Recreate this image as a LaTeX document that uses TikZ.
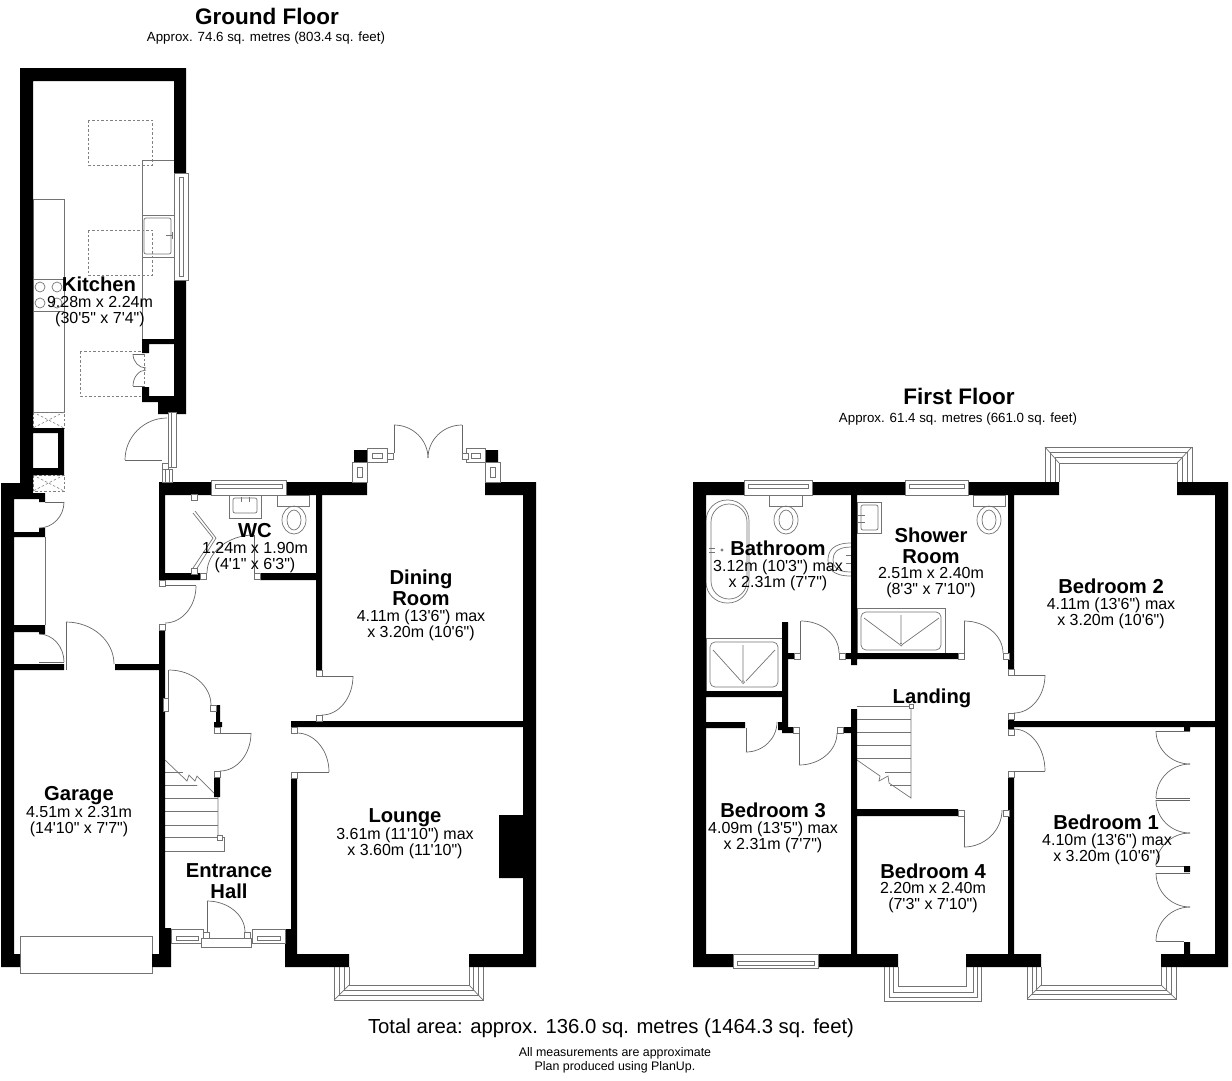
\documentclass[tikz,border=0pt]{standalone}
\usepackage{fontspec}
\newfontfamily\planfont{Liberation Sans}
\usetikzlibrary{calc}
\tikzstyle{wall}=[fill=black]
\tikzstyle{fixture}=[draw=black!55, line width=0.7pt]
\tikzstyle{window}=[draw=black!55, fill=white, line width=0.7pt]
\tikzstyle{hinge}=[draw=black!55, fill=white, line width=0.7pt]
\tikzstyle{doorline}=[draw=black!60, line width=0.7pt]
\tikzstyle{ghost}=[draw=black!50, line width=0.6pt, dash pattern=on 2.5pt off 2pt]
\tikzstyle{floortitle}=[font=\planfont\fontsize{22.5}{24}\selectfont\bfseries]
\tikzstyle{floorarea}=[font=\planfont\fontsize{13.3}{16}\selectfont]
\tikzstyle{roomname}=[font=\planfont\fontsize{20.2}{21}\selectfont\bfseries, align=center, inner sep=0pt]
\tikzstyle{roomsize}=[font=\planfont\fontsize{16}{16}\selectfont, align=center, inner sep=0pt]
\newcommand{\swing}[4]{\draw[doorline] (#1,#2) .. controls ($(#1,#2)!.55!(#1,#4)$) and ($(#3,#4)!.55!(#1,#4)$) .. (#3,#4);}
\begin{document}
\begin{tikzpicture}[x=1pt,y=-1pt]
\useasboundingbox (0,0) rectangle (1232,1080);

% ground floor fittings
\draw[fixture] (33,199) rectangle (64,412);
\draw[fixture] (33,279) rectangle (64,311);
\foreach \cx/\cy in {40/287,57/287,40/303,57/303} \draw[fixture] (\cx,\cy) circle (5);
\draw[fixture] (142,160) rectangle (174,339);
\draw[fixture] (142,215) rectangle (174,257);
\draw[fixture, rounded corners=2pt] (144,218) rectangle (171,254);
\draw[fixture] (172,232) -- (172,239) (166,235) -- (172,235);
\foreach \gx/\gy in {88/120,88/230,80/351} \draw[ghost] (\gx,\gy) rectangle ++(64,45);
\foreach \ty in {412,475} {
\draw[ghost] (33,\ty) rectangle ++(31,16);
\draw[ghost] (33,\ty) -- ++(31,16) (64,\ty) -- ++(-31,16);
}
\draw[fixture] (20,936) rectangle (152,973);
\draw[fixture] (45,537) -- (45,625);
\draw[fixture] (229,495) rectangle (261,518);
\draw[fixture, rounded corners=2pt] (233,498) rectangle (257,513);
\draw[fixture] (241,497) -- (241,502) (249,497) -- (249,502);
\draw[fixture] (277,495) rectangle (309,506);
\draw[fixture] (294,520) ellipse (12 and 14);
\draw[fixture] (294,520) ellipse (7 and 10);
\draw[fixture] (193,513) -- (213,538) -- (193,568) (195,511) -- (216,538) -- (196,570);

% hall stairs
\foreach \sy in {785,798,811,825,837,851} \draw[fixture] (165,\sy) -- (218,\sy);
\draw[fill=white, draw=white] (165,761) -- (187,781) -- (197,785) -- (218,797) -- (218,778) -- (165,750) -- cycle;
\draw[fixture] (165,772) -- (183,772) (165,785) -- (197,785);
\draw[fixture] (165,760) -- (187,781) -- (189,775) -- (195,781) -- (197,776) -- (218,797) -- (218,837);
\draw[fixture] (165,837) -- (224,837) -- (224,851) -- (165,851);
\draw[hinge] (217,835) rectangle ++(5,5);

% ground floor walls
\fill[wall] (20,68) rectangle (186,81) (20,68) rectangle (33,493) (174,68) rectangle (186,173)
(174,280) rectangle (186,414) (142,339) rectangle (174,344) (142,339) rectangle (149,353)
(142,387) rectangle (149,402) (142,396) rectangle (174,402) (158,402) rectangle (186,414)
(33,428) rectangle (64,433) (58,428) rectangle (64,475) (33,468) rectangle (64,475)
(1,483) rectangle (14,967) (1,954) rectangle (20,967) (14,483) rectangle (33,499)
(33,493) rectangle (45,499) (39,493) rectangle (45,502) (14,532) rectangle (45,537)
(39,528) rectangle (45,537) (14,625) rectangle (45,632) (39,625) rectangle (45,634)
(14,664) rectangle (64,670) (115,664) rectangle (159,670)
(159,482) rectangle (165,573) (159,573) rectangle (200,580) (159,482) rectangle (211,495)
(286,482) rectangle (367,495) (316,495) rectangle (322,670) (260,573) rectangle (316,580)
(159,630) rectangle (165,928) (152,954) rectangle (171,967) (159,928) rectangle (171,967)
(216,705) rectangle (220,727) (214,722) rectangle (222,727) (214,777) rectangle (220,797)
(291,779) rectangle (297,929) (285,929) rectangle (297,967) (285,954) rectangle (349,967)
(469,954) rectangle (536,967) (523,482) rectangle (536,967) (485,482) rectangle (536,495)
(291,721) rectangle (523,727) (499,815) rectangle (523,878)
(354,450) rectangle (367,462) (485,450) rectangle (498,462);

% ground floor windows
\draw[window] (174,173) rectangle (188,280);
\draw[fixture] (179,177) rectangle (183,276);
\draw[window] (211,480) rectangle (286,495);
\draw[fixture] (215,484) rectangle (282,488);
\draw[window] (162,469) rectangle (172,482);
\draw[fixture] (165,469) rectangle (169,482);
\draw[window] (168,412) rectangle (176,467);
\draw[fixture] (171,412) -- (171,467);
\draw[window] (171,929) rectangle (203,943);
\draw[fixture] (176,936) rectangle (198,940);
\draw[window] (252,929) rectangle (285,943);
\draw[fixture] (257,936) rectangle (280,940);
\draw[window] (201,938) rectangle (251,947);
\draw[window] (367,448) rectangle (387,462);
\draw[fixture] (372,453) rectangle (382,458);
\draw[window] (466,448) rectangle (485,462);
\draw[fixture] (471,453) rectangle (480,458);
\draw[window] (352,462) rectangle (367,482);
\draw[fixture] (357,467) rectangle (362,477);
\draw[window] (485,462) rectangle (500,482);
\draw[fixture] (490,467) rectangle (495,477);
\draw[fixture] (334,967) -- (334,1000) -- (483,1000) -- (483,967);
\draw[fixture] (339,967) -- (339,995) -- (478,995) -- (478,967);
\draw[fixture] (344,967) -- (344,990) -- (473,990) -- (473,967);
\draw[fixture] (349,967) -- (349,985) -- (469,985) -- (469,967);
\draw[fixture] (334,1000) -- (349,985) (483,1000) -- (469,985);

% ground floor doors
\foreach \hx/\hy in {159/580,159/624,200/573,254/573,191/494,191/568,210/705,214/727,214/771,203/932,244/932,291/727,291/772,316/670,316/715,387/453,462/453,162/463}
\draw[hinge] (\hx,\hy) rectangle ++(6,6);
\draw[hinge] (163,698) rectangle (168,711);
\draw[doorline] (125,460) -- (162,460) (165,585) -- (196,585) (45,502) -- (64,502) (39,662) -- (64,662)
(66,670) -- (66,622) (168,698) -- (168,670) (220,733) -- (251,733) (207,932) -- (207,901)
(322,676) -- (353,676) (297,772) -- (329,772) (394,453) -- (394,425) (462,453) -- (462,425)
(254,573) -- (254,535) (133,354) -- (144,354) (133,386) -- (144,386);
\swing{125}{460}{167}{418}
\swing{196}{586}{165}{623}
\swing{64}{502}{39}{528}
\swing{64}{662}{39}{634}
\swing{114}{664}{66}{622}
\swing{211}{705}{169}{670}
\swing{251}{733}{220}{771}
\swing{245}{932}{207}{901}
\swing{353}{676}{322}{715}
\swing{329}{772}{297}{733}
\swing{428}{458}{394}{425}
\swing{428}{458}{462}{425}
\swing{133}{354}{146}{368}
\swing{133}{386}{146}{370}
\swing{207}{573}{254}{535}

% first floor fittings
\draw[fixture, rounded corners=21pt] (706,500) rectangle (749,603);
\draw[fixture, rounded corners=18pt] (711,504) rectangle (747,599);
\draw[fixture] (709,548) -- (715,548) (709,552) -- (715,552);
\draw[fixture] (722,550) circle (1.2);
\draw[fixture] (769,495) rectangle (802,506);
\draw[fixture] (786,520) ellipse (12 and 14);
\draw[fixture] (786,520) ellipse (7 and 10);
\draw[fixture] (851,543) .. controls (832,543) and (828,552) .. (828,560) .. controls (828,568) and (832,576) .. (851,576);
\draw[fixture] (851,547) .. controls (837,547) and (833,553) .. (833,560) .. controls (833,567) and (837,572) .. (851,572);
\draw[fixture] (846,555) -- (851,555) (846,563) -- (851,563);
\draw[fixture] (857,502) rectangle (881,533);
\draw[fixture, rounded corners=2pt] (861,505) rectangle (878,530);
\draw[fixture] (858,515) -- (865,515) (858,522) -- (865,522);
\draw[fixture] (973,495) rectangle (1005,506);
\draw[fixture] (989,520) ellipse (12 and 14);
\draw[fixture] (989,520) ellipse (7 and 10);
\draw[fixture] (857,608) rectangle (945,653);
\draw[fixture, rounded corners=5pt] (861,612) rectangle (941,650);
\draw[fixture] (901,615) -- (901,643) (864,618) -- (899,644) (939,618) -- (903,644);
\draw[fixture] (901,644.5) circle (1.5);
\draw[fixture] (706,638) rectangle (782,691);
\draw[fixture, rounded corners=5pt] (710,642) rectangle (778,687);
\draw[fixture] (743,645) -- (743,680) (713,650) -- (741,681) (775,650) -- (746,681);
\draw[fixture] (743,682) circle (1.5);

% landing stairs
\foreach \sy in {706,719,732,745,758} \draw[fixture] (857,\sy) -- (911,\sy);
\draw[fixture] (885,772) -- (911,772) (890,785) -- (911,785);
\draw[fixture] (857,760) -- (880,776) -- (879,781) -- (888,776) -- (889,783) -- (911,798) -- (911,706);
\draw[hinge] (909,704) rectangle ++(4,4);

% first floor walls
\fill[wall] (693,482) rectangle (744,495) (812,482) rectangle (905,495) (968,482) rectangle (1059,495)
(1177,482) rectangle (1228,495) (693,482) rectangle (706,967) (1215,482) rectangle (1228,967)
(851,495) rectangle (857,665) (1008,495) rectangle (1014,669) (845,653) rectangle (958,659)
(785,653) rectangle (794,659) (782,622) rectangle (788,733) (706,691) rectangle (782,697)
(706,722) rectangle (745,728) (778,722) rectangle (788,730) (788,727) rectangle (793,733)
(843,727) rectangle (851,733) (851,709) rectangle (857,967) (857,809) rectangle (958,816)
(1008,778) rectangle (1014,954) (1008,721) rectangle (1215,727) (1008,719) rectangle (1014,729)
(693,954) rectangle (733,967) (818,954) rectangle (898,967) (966,954) rectangle (1041,967)
(1161,954) rectangle (1228,967) (1184,726) rectangle (1190,731) (1184,866) rectangle (1190,872)
(1184,942) rectangle (1190,954);

% first floor windows
\draw[window] (744,480) rectangle (812,495);
\draw[fixture] (748,484) rectangle (808,488);
\draw[window] (905,480) rectangle (968,495);
\draw[fixture] (909,484) rectangle (964,488);
\draw[window] (733,954) rectangle (818,968);
\draw[fixture] (737,961) rectangle (814,965);
\draw[fixture] (1045,482) -- (1045,447) -- (1192,447) -- (1192,482);
\draw[fixture] (1050,482) -- (1050,452) -- (1187,452) -- (1187,482);
\draw[fixture] (1055,482) -- (1055,457) -- (1182,457) -- (1182,482);
\draw[fixture] (1059,482) -- (1059,463) -- (1177,463) -- (1177,482);
\draw[fixture] (1045,447) -- (1059,463) (1192,447) -- (1177,463);
\draw[fixture] (884,967) -- (884,1001) -- (981,1001) -- (981,967);
\draw[fixture] (889,967) -- (889,997) -- (977,997) -- (977,967);
\draw[fixture] (893,967) -- (893,992) -- (973,992) -- (973,967);
\draw[fixture] (898,967) -- (898,986) -- (966,986) -- (966,967);
\draw[fixture] (1027,967) -- (1027,999) -- (1176,999) -- (1176,967);
\draw[fixture] (1032,967) -- (1032,994) -- (1171,994) -- (1171,967);
\draw[fixture] (1036,967) -- (1036,990) -- (1166,990) -- (1166,967);
\draw[fixture] (1041,967) -- (1041,985) -- (1161,985) -- (1161,967);
\draw[fixture] (1027,999) -- (1041,985) (1176,999) -- (1161,985);

% first floor doors
\foreach \hx/\hy in {794/653,839/653,958/653,1003/653,1008/669,793/727,837/727,958/810,1003/810,1008/771,1008/729,1008/713}
\draw[hinge] (\hx,\hy) rectangle ++(6,6);
\draw[doorline] (800,653) -- (800,621) (964,659) -- (964,621) (746,728) -- (746,752) (799,733) -- (799,765)
(964,816) -- (964,847) (1014,675) -- (1045,675) (1014,771) -- (1045,771)
(1156,731) -- (1190,731) (1156,798) -- (1190,798) (1156,800) -- (1190,800) (1156,866) -- (1184,866)
(1156,873) -- (1190,873) (1156,941) -- (1184,941);
\swing{839}{653}{801}{621}
\swing{1003}{653}{964}{621}
\swing{777}{722}{746}{752}
\swing{837}{733}{799}{765}
\swing{1002}{810}{964}{847}
\swing{1045}{675}{1014}{713}
\swing{1045}{771}{1014}{729}
\swing{1156}{731}{1190}{764}
\swing{1156}{798}{1190}{764}
\swing{1156}{800}{1190}{833}
\swing{1156}{866}{1190}{833}
\swing{1156}{873}{1190}{907}
\swing{1156}{941}{1190}{907}

\node[floortitle] (groundtitle) at (267,16) {Ground Floor};
\node[floorarea] (groundarea) at (266,38) {Approx. 74.6 sq. metres (803.4 sq. feet)};
\node[floortitle] (firsttitle) at (959,396) {First Floor};
\node[floorarea] (firstarea) at (958,419) {Approx. 61.4 sq. metres (661.0 sq. feet)};

\node[roomname] (kitchen) at (99,284) {Kitchen};
\node[roomsize] (kitchensize) at (100,312) {9.28m x 2.24m\\(30'5" x 7'4")};
\node[roomname] (wc) at (255,531) {WC};
\node[roomsize] (wcsize) at (255,558) {1.24m x 1.90m\\(4'1" x 6'3")};
\node[roomname] (dining) at (421,588) {Dining\\Room};
\node[roomsize] (diningsize) at (421,625) {4.11m (13'6") max\\x 3.20m (10'6")};
\node[roomname] (lounge) at (405,818) {Lounge};
\node[roomsize] (loungesize) at (405,843) {3.61m (11'10") max\\x 3.60m (11'10")};
\node[roomname] (garage) at (79,796) {Garage};
\node[roomsize] (garagesize) at (79,822) {4.51m x 2.31m\\(14'10" x 7'7")};
\node[roomname] (hall) at (229,881) {Entrance\\Hall};

\node[roomname] (bathroom) at (778,548) {Bathroom};
\node[roomsize] (bathroomsize) at (778,575) {3.12m (10'3") max\\x 2.31m (7'7")};
\node[roomname] (shower) at (931,546) {Shower\\Room};
\node[roomsize] (showersize) at (931,583) {2.51m x 2.40m\\(8'3" x 7'10")};
\node[roomname] (bedtwo) at (1111,586) {Bedroom 2};
\node[roomsize] (bedtwosize) at (1111,613) {4.11m (13'6") max\\x 3.20m (10'6")};
\node[roomname] (landing) at (932,698) {Landing};
\node[roomname] (bedthree) at (773,810) {Bedroom 3};
\node[roomsize] (bedthreesize) at (773,837) {4.09m (13'5") max\\x 2.31m (7'7")};
\node[roomname] (bedfour) at (933,871) {Bedroom 4};
\node[roomsize] (bedfoursize) at (933,898) {2.20m x 2.40m\\(7'3" x 7'10")};
\node[roomname] (bedone) at (1106,822) {Bedroom 1};
\node[roomsize] (bedonesize) at (1107,849) {4.10m (13'6") max\\x 3.20m (10'6")};

\node[font=\planfont\fontsize{20.3}{22}\selectfont] (total) at (611,1028) {Total area: approx. 136.0 sq. metres (1464.3 sq. feet)};
\node[font=\planfont\fontsize{12.4}{14}\selectfont, align=center] (note) at (615,1060) {All measurements are approximate\\Plan produced using PlanUp.};
\end{tikzpicture}
\end{document}
